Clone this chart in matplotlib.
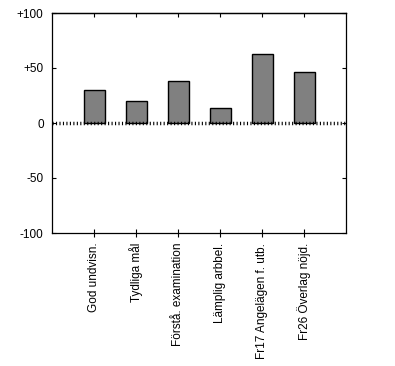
import matplotlib
matplotlib.use("Agg")
import matplotlib.pyplot as plt

categories = ["God undvisn.", "Tydliga mål", "Förstå. examination",
              "Lämplig arbbel.", "Fr17 Angelägen f. utb.", "Fr26 Överlag nöjd."]
values = [30, 20, 38, 14, 63, 46]
yticks = [-100, -50, 0, 50, 100]
ytick_labels = ["-100", "-50", "0", "+50", "+100"]

plt.rcParams['font.family'] = ['Liberation Sans', 'DejaVu Sans']
plt.rcParams['lines.scale_dashes'] = False

fig = plt.figure(figsize=(3.95, 3.66), dpi=100)
ax = fig.add_axes([52/395, 1 - 233/366, 294/395, 220/366])

x = list(range(1, len(categories) + 1))
ax.bar(x, values, width=0.5, color="#808080", edgecolor="black", linewidth=1.0, zorder=2)
ax.axhline(0, color="black", linewidth=2.5, linestyle=(0, (0.8, 1.7)), zorder=3)

ax.set_xlim(0, len(categories) + 1)
ax.set_ylim(-100, 100)
ax.set_xticks(x)
ax.set_xticklabels(categories, rotation=90, fontsize=8.5)
ax.set_yticks(yticks)
ax.set_yticklabels(ytick_labels, fontsize=8.5)

ax.tick_params(axis='x', direction='inout', length=6, width=0.8, pad=4)
ax.tick_params(axis='y', direction='in', length=3, width=0.8, right=True, pad=6)
top = ax.secondary_xaxis('top')
top.set_xticks(x)
top.set_xticklabels([])
top.tick_params(axis='x', direction='in', length=3, width=0.8)
top.spines['top'].set_linewidth(0.9)
for s in ax.spines.values():
    s.set_linewidth(0.9)

fig.savefig("out.png", dpi=100)
